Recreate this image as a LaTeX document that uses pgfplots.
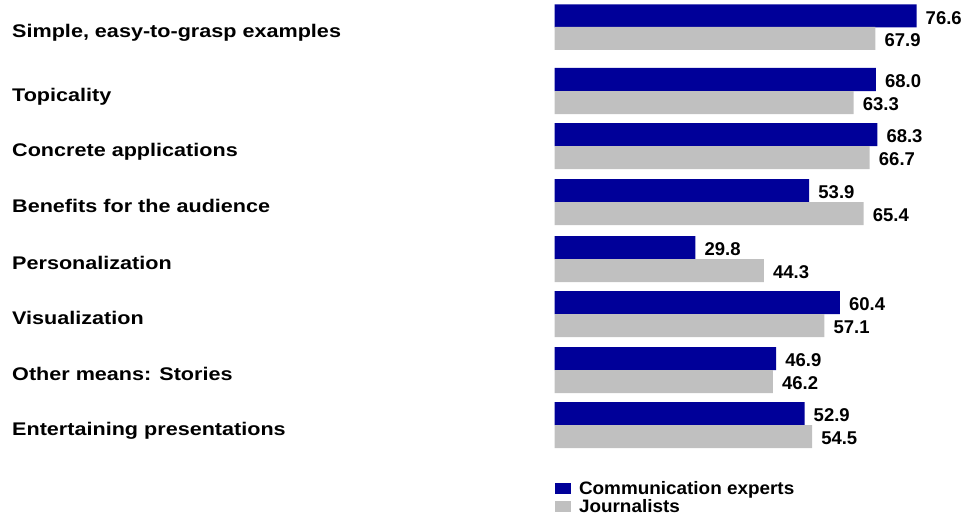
\documentclass[border=0pt]{standalone}
\usepackage{pgfplots}
\pgfplotsset{compat=1.18}
\usepackage{fontspec}
\setmainfont{Liberation Sans}
\newfontfamily\labelfont{Liberation Sans}[FakeStretch=1.18]
\newfontfamily\legfont{Liberation Sans}[FakeStretch=1.05]
\definecolor{cblue}{RGB}{0,0,153}
\definecolor{cgray}{RGB}{192,192,192}
\begin{document}
\begin{tikzpicture}
\begin{axis}[
 scale only axis, width=966pt, height=519pt,
 xmin=-117.33, xmax=87.07, ymin=0, ymax=519, y dir=reverse,
 axis line style={draw=none}, tick style={draw=none}, major tick length=0pt,
 xtick=\empty,
 ytick={37.5,101.5,156.5,212.5,269.5,324.5,380.5,435.5},
 yticklabels={{Simple, easy-to-grasp examples},{Topicality},{Concrete applications},{Benefits for the audience},{Personalization},{Visualization},{Other means: Stories},{Entertaining presentations}},
 yticklabel style={anchor=base west, inner sep=0pt, xshift=12pt, font=\labelfont\fontsize{18.3}{20}\selectfont\bfseries},
 xbar, bar width=23, bar shift=0pt,
 clip=false,
 nodes near coords, point meta=x,
 nodes near coords style={anchor=west, inner sep=0pt, xshift=9pt, yshift=-2pt, font=\fontsize{18.5}{20}\selectfont\bfseries, text=black},
 legend style={draw=none, fill=none, at={(axis cs:0,481)}, anchor=north west, inner sep=0pt, outer sep=0pt, row sep=2.5pt, column sep=8pt, font=\legfont\fontsize{18}{20}\selectfont\bfseries, nodes={inner sep=0.5pt, anchor=west}},
 legend cell align=left,
 /pgf/number format/fixed, /pgf/number format/fixed zerofill, /pgf/number format/precision=1, /pgf/number format/assume math mode=true,
]
\addplot[fill=cblue, draw=none, legend image code/.code={\fill[cblue] (0pt,-5.5pt) rectangle (16pt,5.5pt);}] coordinates {
 (76.6,16) (68.0,79.5) (68.3,134.5) (53.9,190.5) (29.8,247.5) (60.4,302.5) (46.9,358.5) (52.9,413.5)};
\addlegendentry{Communication experts}
\addplot[fill=cgray, draw=none, legend image code/.code={\fill[cgray] (0pt,-5.5pt) rectangle (16pt,5.5pt);}] coordinates {
 (67.9,38.5) (63.3,102.5) (66.7,157.5) (65.4,213.5) (44.3,270.5) (57.1,325.5) (46.2,381.5) (54.5,436.5)};
\addlegendentry{Journalists}
\path (rel axis cs:0,0) rectangle (rel axis cs:1,1);
\end{axis}
\end{tikzpicture}
\end{document}
